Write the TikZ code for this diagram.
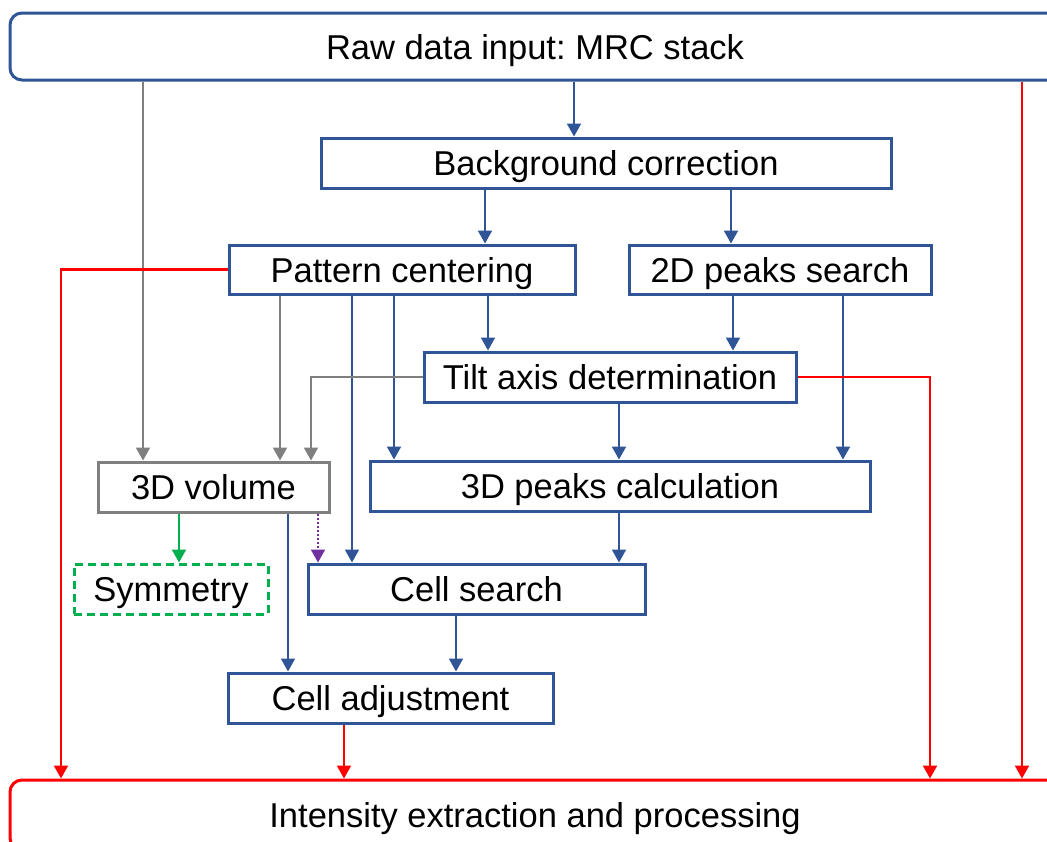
\documentclass[tikz,border=0pt]{standalone}
\usepackage{fontspec}
\newfontfamily\arialf{Liberation Sans}
\usetikzlibrary{arrows.meta}
\frenchspacing
\definecolor{nblue}{HTML}{2F5597}
\definecolor{ngray}{HTML}{7F7F7F}
\definecolor{nred}{HTML}{FF0000}
\definecolor{ngreen}{HTML}{00B050}
\definecolor{npurple}{HTML}{7030A0}
\tikzset{
  boxbase/.style={line width=3pt, inner sep=0pt, minimum height=50, fill=white,
    text height=25pt, text depth=0pt,
    font=\arialf\fontsize{34.5}{40}\selectfont},
  bluebox/.style={boxbase, draw=nblue},
  graybox/.style={boxbase, draw=ngray},
  greenbox/.style={boxbase, draw=ngreen, dash pattern=on 8pt off 5pt},
  tipA/.style={-{Triangle[width=14pt,length=13pt]}},
  barrow/.style={tipA, draw=nblue, line width=2pt},
  garrow/.style={tipA, draw=ngray, line width=2pt},
  rarrow/.style={tipA, draw=nred, line width=2.2pt},
  grarrow/.style={tipA, draw=ngreen, line width=2pt},
  parrow/.style={tipA, draw=npurple, line width=2pt, dash pattern=on 2pt off 2pt},
}
\begin{document}
\begin{tikzpicture}[x=1pt,y=-1pt]
\clip (0,0) rectangle (1047,841);
\fill[white] (0,0) rectangle (1047,841);
\node[bluebox, rounded corners=12pt, minimum width=1050, minimum height=67] (raw) at (535,46.5) {Raw data input: MRC stack};
\node[boxbase, draw=nred, rounded corners=12pt, minimum width=1050, minimum height=70] (int) at (535,815) {Intensity extraction and processing};
\node[bluebox, minimum width=570] (bg) at (606,163) {Background correction};
\node[bluebox, minimum width=346, minimum height=49] (pc) at (402,269.5) {Pattern centering};
\node[bluebox, minimum width=302, minimum height=49] (pk2) at (780,269.5) {2D peaks search};
\node[bluebox, minimum width=372] (tilt) at (610,377) {Tilt axis determination};
\node[bluebox, minimum width=500] (pk3) at (620,486) {3D peaks calculation};
\node[graybox, minimum width=231] (vol) at (213.5,487) {3D volume};
\node[greenbox, minimum width=194] (sym) at (171,589) {Symmetry};
\node[bluebox, minimum width=337] (cs) at (476.5,589) {Cell search};
\node[bluebox, minimum width=325] (ca) at (390.5,698) {Cell adjustment};

% blue connectors
\draw[barrow] (raw.south -| 574,0) -- (bg.north -| 574,0);
\draw[barrow] (bg.south -| 485,0) -- (pc.north -| 485,0);
\draw[barrow] (bg.south -| 731,0) -- (pk2.north -| 731,0);
\draw[barrow] (pc.south -| 352,0) -- (cs.north -| 352,0);
\draw[barrow] (pc.south -| 394,0) -- (pk3.north -| 394,0);
\draw[barrow] (pc.south -| 488,0) -- (tilt.north -| 488,0);
\draw[barrow] (pk2.south -| 733,0) -- (tilt.north -| 733,0);
\draw[barrow] (pk2.south -| 843,0) -- (pk3.north -| 843,0);
\draw[barrow] (tilt.south -| 619,0) -- (pk3.north -| 619,0);
\draw[barrow] (pk3.south -| 619,0) -- (cs.north -| 619,0);
\draw[barrow] (vol.south -| 288,0) -- (ca.north -| 288,0);
\draw[barrow] (cs.south -| 456,0) -- (ca.north -| 456,0);
% gray connectors
\draw[garrow] (raw.south -| 143,0) -- (vol.north -| 143,0);
\draw[garrow] (pc.south -| 280,0) -- (vol.north -| 280,0);
\draw[garrow] (tilt.west) -| (vol.north -| 311,0);
% red connectors
\draw[rarrow] (raw.south -| 1022,0) -- (int.north -| 1022,0);
\draw[rarrow] (pc.west) -| (int.north -| 61,0);
\draw[rarrow] (tilt.east) -| (int.north -| 930,0);
\draw[rarrow] (ca.south -| 344,0) -- (int.north -| 344,0);
% green and purple
\draw[grarrow] (vol.south -| 179,0) -- (sym.north -| 179,0);
\draw[parrow] (vol.south -| 318,0) -- (cs.north -| 318,0);
\end{tikzpicture}
\end{document}
